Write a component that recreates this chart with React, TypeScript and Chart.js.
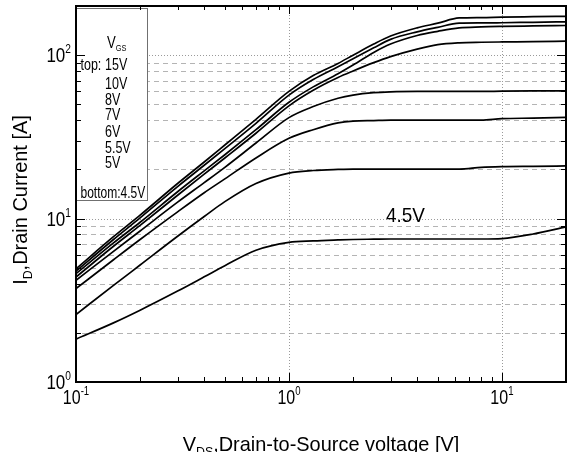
import React, { useEffect, useRef } from "react";
import { Chart, registerables } from "chart.js";

Chart.register(...registerables);

// ---- data ----
const VDS = [0.1, 0.15, 0.2, 0.3, 0.4, 0.5, 0.7, 1, 1.3, 1.7, 2, 2.5, 3, 4, 5, 6.3, 8, 10, 14, 20];
const ID_15V = [4.93, 7.75, 10.5, 16.4, 22.2, 28.2, 40.5, 60, 75, 89, 100, 117, 131, 147, 157, 169, 170, 171, 172, 173];
const ID_10V = [4.77, 7.45, 10.1, 15.7, 21.2, 26.8, 38.3, 57, 71, 85, 95, 111, 125, 139, 148, 157, 157.5, 158, 159, 160];
const ID_8V = [4.6, 7.1, 9.5, 14.6, 19.6, 24.6, 35, 51.5, 64, 77, 87, 104, 117, 132, 140, 147, 149, 150, 151, 152];
const ID_7V = [4.39, 6.77, 9.08, 13.9, 18.7, 23.5, 33.3, 49, 61, 73, 80, 90, 98, 109, 116, 119, 120, 120.5, 121, 122];
const ID_6V = [4.19, 6.3, 8.4, 12.6, 16.6, 20.6, 29, 41.5, 48.5, 54.5, 57, 59, 59.7, 60, 60, 60, 60, 60.2, 60.4, 60.5];
const ID_5_5V = [3.73, 5.6, 7.45, 11.0, 14.4, 17.5, 23.5, 31, 35, 38.5, 39.5, 39.8, 40, 40, 40, 40, 40, 40.9, 41.2, 41.6];
const ID_5V = [2.59, 3.9, 5.2, 7.8, 10.3, 12.7, 16.4, 19.0, 19.7, 20, 20.1, 20.1, 20.1, 20.1, 20.1, 20.1, 20.6, 20.8, 20.9, 21];
const ID_4_5V = [1.83, 2.3, 2.75, 3.6, 4.4, 5.15, 6.4, 7.15, 7.3, 7.4, 7.45, 7.48, 7.5, 7.5, 7.5, 7.5, 7.5, 7.55, 8.05, 8.9];

const SERIES = [ID_15V, ID_10V, ID_8V, ID_7V, ID_6V, ID_5_5V, ID_5V, ID_4_5V];
const SERIES_NAMES = ["15V", "10V", "8V", "7V", "6V", "5.5V", "5V", "4.5V"];

const X_TICKS = [0.1, 1, 10];
const X_TICK_EXP = ["-1", "0", "1"];
const Y_TICKS = [1, 10, 100];
const Y_TICK_EXP = ["0", "1", "2"];
const MINOR_MULT = [2, 3, 4, 5, 6, 7, 8, 9];

const LEGEND_TITLE = ["V", "GS"];
const LEGEND_LINES = ["15V", "10V", "8V", "7V", "6V", "5.5V", "5V", "4.5V"];
const Y_TITLE = ["I", "D", ",Drain Current [A]"];
const X_TITLE = ["V", "DS", ",Drain-to-Source voltage [V]"];
const ANNOT = "4.5V";

const FONT = '"Liberation Sans", Arial, sans-serif';

type Part = [string, number, number];

function rich(ctx: CanvasRenderingContext2D, parts: Part[], x: number, y: number, align: string, sx: number) {
  ctx.save();
  let total = 0;
  const widths: number[] = [];
  for (const p of parts) {
    ctx.font = `${p[1]}px ${FONT}`;
    const w = ctx.measureText(p[0]).width;
    widths.push(w);
    total += w;
  }
  const start = align === "center" ? -total / 2 : align === "right" ? -total : 0;
  ctx.translate(x, y);
  ctx.scale(sx, 1);
  ctx.textAlign = "left";
  ctx.textBaseline = "alphabetic";
  ctx.fillStyle = "#000";
  let cx = start;
  parts.forEach((p, i) => {
    ctx.font = `${p[1]}px ${FONT}`;
    ctx.fillText(p[0], cx, p[2]);
    cx += widths[i];
  });
  ctx.restore();
}

function seg(ctx: CanvasRenderingContext2D, x1: number, y1: number, x2: number, y2: number) {
  ctx.beginPath();
  ctx.moveTo(x1, y1);
  ctx.lineTo(x2, y2);
  ctx.stroke();
}

function allMinor(min: number, max: number) {
  const out: number[] = [];
  for (let d = min; d < max; d *= 10) {
    for (const m of MINOR_MULT) {
      const v = d * m;
      if (v < max) out.push(v);
    }
  }
  return out;
}

const decorPlugin = {
  id: "decor",
  beforeDatasetsDraw(chart: any) {
    const ctx: CanvasRenderingContext2D = chart.ctx;
    const a = chart.chartArea;
    const xs = chart.scales.x;
    const ys = chart.scales.y;
    ctx.save();
    ctx.beginPath();
    ctx.rect(a.left, a.top, a.right - a.left, a.bottom - a.top);
    ctx.clip();
    ctx.lineWidth = 1;
    ctx.strokeStyle = "#b4b4b4";
    ctx.setLineDash([5, 4]);
    for (const v of allMinor(1, 200)) {
      const py = Math.round(ys.getPixelForValue(v)) + 0.5;
      seg(ctx, a.left + 6, py, a.right, py);
    }
    ctx.strokeStyle = "#9a9a9a";
    ctx.setLineDash([1, 2]);
    for (const v of Y_TICKS.slice(1)) {
      const py = Math.round(ys.getPixelForValue(v)) + 0.5;
      seg(ctx, a.left + 4, py, a.right, py);
    }
    for (const v of X_TICKS.slice(1)) {
      const px = Math.round(xs.getPixelForValue(v)) + 0.5;
      seg(ctx, px, a.top, px, a.bottom);
    }
    ctx.restore();
  },
  afterDatasetsDraw(chart: any) {
    const ctx: CanvasRenderingContext2D = chart.ctx;
    const a = chart.chartArea;
    const xs = chart.scales.x;
    const ys = chart.scales.y;

    // legend box
    ctx.save();
    ctx.fillStyle = "#fff";
    ctx.fillRect(a.left, 8, 71.5, 192.5);
    ctx.strokeStyle = "#707070";
    ctx.lineWidth = 1;
    ctx.strokeRect(a.left + 0.5, 8.5, 71, 192);
    ctx.restore();

    rich(ctx, [[LEGEND_TITLE[0], 16, 0], [LEGEND_TITLE[1], 9, 3]], 107, 48, "left", 0.82);
    rich(ctx, [["top:", 16, 0]], 80.5, 70, "left", 0.78);
    const baselines = [70, 89, 105, 120, 137, 153, 168];
    for (let i = 0; i < 7; i++) {
      rich(ctx, [[LEGEND_LINES[i], 16, 0]], 105, baselines[i], "left", 0.78);
    }
    rich(ctx, [["bottom:" + LEGEND_LINES[7], 16, 0]], 80.5, 198, "left", 0.75);

    // frame
    ctx.save();
    ctx.strokeStyle = "#000";
    ctx.lineWidth = 2;
    ctx.strokeRect(a.left, a.top, a.right - a.left, a.bottom - a.top);
    ctx.lineWidth = 1;
    for (const v of X_TICKS) {
      const px = Math.round(xs.getPixelForValue(v)) + 0.5;
      seg(ctx, px, a.bottom, px, a.bottom - 9);
      seg(ctx, px, a.top, px, a.top + 8);
    }
    for (const v of allMinor(0.1, 20)) {
      const px = Math.round(xs.getPixelForValue(v)) + 0.5;
      seg(ctx, px, a.bottom, px, a.bottom - 5);
      seg(ctx, px, a.top, px, a.top + 4);
    }
    for (const v of Y_TICKS) {
      const py = Math.round(ys.getPixelForValue(v)) + 0.5;
      seg(ctx, a.left, py, a.left + 9, py);
      seg(ctx, a.right, py, a.right - 9, py);
    }
    for (const v of allMinor(1, 200)) {
      const py = Math.round(ys.getPixelForValue(v)) + 0.5;
      seg(ctx, a.left, py, a.left + 5, py);
      seg(ctx, a.right, py, a.right - 5, py);
    }
    ctx.restore();

    // tick labels
    X_TICKS.forEach((v, i) => {
      const px = xs.getPixelForValue(v);
      rich(ctx, [["10", 20, 0], [X_TICK_EXP[i], 12, -9]], px, a.bottom + 22, "center", 0.8);
    });
    Y_TICKS.forEach((v, i) => {
      const py = ys.getPixelForValue(v);
      rich(ctx, [["10", 20, 0], [Y_TICK_EXP[i], 12, -9]], a.left - 5, py + 7, "right", 0.85);
    });

    // annotation
    rich(ctx, [[ANNOT, 21, 0]], 386, 222, "left", 0.9);

    // axis titles
    rich(ctx, [[X_TITLE[0], 21, 0], [X_TITLE[1], 13, 5], [X_TITLE[2], 21, 0]], (a.left + a.right) / 2, 451, "center", 0.95);
    ctx.save();
    ctx.translate(27, 200);
    ctx.rotate(-Math.PI / 2);
    rich(ctx, [[Y_TITLE[0], 21, 0], [Y_TITLE[1], 13, 5], [Y_TITLE[2], 21, 0]], 0, 0, "center", 0.95);
    ctx.restore();
  },
};

export default function App() {
  const ref = useRef<HTMLCanvasElement | null>(null);
  useEffect(() => {
    const canvas = ref.current;
    if (!canvas) return;
    const chart = new Chart(canvas, {
      type: "line",
      data: {
        datasets: SERIES.map((s, i) => ({
          label: SERIES_NAMES[i],
          data: VDS.map((x, j) => ({ x, y: s[j] })),
          borderColor: "#000",
          borderWidth: 1.7,
          pointRadius: 0,
          fill: false,
          cubicInterpolationMode: "monotone" as const,
        })),
      },
      options: {
        animation: false,
        responsive: false,
        maintainAspectRatio: false,
        devicePixelRatio: 1,
        layout: { padding: { left: 0, top: 6, right: 2, bottom: 0 } },
        plugins: { legend: { display: false }, tooltip: { enabled: false }, title: { display: false } },
        scales: {
          x: {
            type: "logarithmic",
            min: 0.1,
            max: 20,
            ticks: { display: false },
            grid: { display: false },
            border: { display: false },
            afterFit: (s: any) => {
              s.height = 70;
            },
          },
          y: {
            type: "logarithmic",
            min: 1,
            max: 200,
            ticks: { display: false },
            grid: { display: false },
            border: { display: false },
            afterFit: (s: any) => {
              s.width = 76;
            },
          },
        },
      } as any,
      plugins: [decorPlugin],
    });
    return () => chart.destroy();
  }, []);
  return (
    <div style={{ position: "absolute", left: 0, top: 0, width: 568, height: 452, background: "#fff" }}>
      <canvas ref={ref} width={568} height={452} style={{ display: "block", width: 568, height: 452 }} />
    </div>
  );
}
